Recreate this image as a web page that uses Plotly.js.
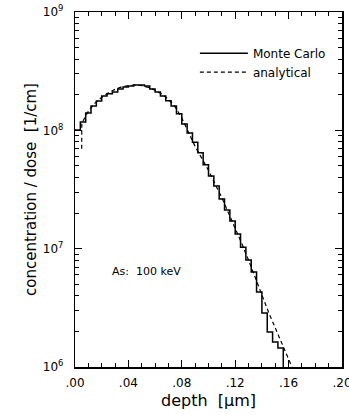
<!DOCTYPE html>
<html>
<head>
<meta charset="utf-8">
<script src="https://cdn.plot.ly/plotly-3.0.1.min.js"></script>
<style>
  html, body { margin: 0; padding: 0; background: #fff; }
  #chart { width: 349px; height: 415px; }
</style>
</head>
<body>
<div id="chart"></div>
<script>
// ---- data ----
// Monte Carlo histogram: bin width 0.004 µm, left edges from 0
const binWidth = 0.004;
const mcValues = [
  1.007e8, 1.175e8, 1.403e8, 1.603e8, 1.770e8, 1.950e8, 2.042e8, 2.113e8,
  2.239e8, 2.328e8, 2.371e8, 2.421e8, 2.421e8, 2.371e8, 2.239e8, 2.113e8,
  1.950e8, 1.778e8, 1.603e8, 1.380e8, 1.132e8, 9.51e7, 7.94e7, 6.46e7,
  5.13e7, 4.12e7, 3.39e7, 2.63e7, 2.12e7, 1.71e7, 1.33e7, 1.03e7,
  8.04e6, 6.35e6, 4.31e6, 2.86e6, 1.98e6, 1.63e6, 1.45e6
];
// analytical curve
const anDepth = [0.0050, 0.0051, 0.010, 0.015, 0.020, 0.025, 0.030, 0.035, 0.040, 0.045,
                 0.050, 0.055, 0.060, 0.065, 0.070, 0.075, 0.080, 0.085, 0.090, 0.095,
                 0.100, 0.105, 0.110, 0.115, 0.120, 0.125, 0.130, 0.135, 0.140, 0.145,
                 0.150, 0.155, 0.160, 0.1625];
const anValues = [7.0e7, 1.15e8, 1.45e8, 1.70e8, 1.90e8, 2.08e8, 2.22e8, 2.33e8, 2.39e8, 2.42e8,
                  2.39e8, 2.30e8, 2.18e8, 2.03e8, 1.83e8, 1.58e8, 1.27e8, 9.7e7, 7.3e7, 5.8e7,
                  4.6e7, 3.5e7, 2.7e7, 2.0e7, 1.5e7, 1.1e7, 8.0e6, 5.7e6, 3.98e6, 2.9e6,
                  2.14e6, 1.57e6, 1.15e6, 1.0e6];
const xTickVals = [0, 0.04, 0.08, 0.12, 0.16, 0.20];
const xTickText = ['.00', '.04', '.08', '.12', '.16', '.20'];
const yDecades = [6, 7, 8, 9];
const legendNames = ['Monte Carlo', 'analytical'];
const annotationText = 'As:  100 keV';

// ---- build traces ----
const mcX = mcValues.map((_, i) => i * binWidth);
const mcY = mcValues.slice();
// close last bin and drop to below axis
mcX.push(mcValues.length * binWidth);
mcY.push(mcValues[mcValues.length - 1]);
mcX.push(mcValues.length * binWidth);
mcY.push(1e5);

const yTickVals = yDecades.map(d => Math.pow(10, d));
const yTickText = yDecades.map(d => '10<sup>' + d + '</sup>\u00a0\u00a0');
const yMinor = [];
yDecades.slice(0, -1).forEach(d => { for (let k = 2; k <= 9; k++) yMinor.push(k * Math.pow(10, d)); });

const font = 'DejaVu Sans, sans-serif';

const traces = [
  {x: mcX, y: mcY, name: legendNames[0], mode: 'lines', line: {shape: 'hv', color: '#000', width: 1.5}},
  {x: anDepth, y: anValues, name: legendNames[1], mode: 'lines', line: {color: '#000', width: 1.2, dash: '4px,3px'}}
];

const layout = {
  width: 349, height: 415,
  margin: {l: 75, r: 7, t: 12, b: 48},
  paper_bgcolor: '#fff', plot_bgcolor: '#fff',
  font: {family: font, color: '#000', size: 12},
  showlegend: true,
  legend: {x: 0.449, y: 0.925, xanchor: 'left', yanchor: 'top', bgcolor: 'rgba(0,0,0,0)',
           font: {size: 12, family: font}, tracegroupgap: 0, itemwidth: 48},
  xaxis: {
    range: [0, 0.2], showgrid: false, zeroline: false,
    showline: true, linecolor: '#000', linewidth: 1.5, mirror: 'ticks',
    tickmode: 'array', tickvals: xTickVals, ticktext: xTickText,
    ticks: 'inside', ticklen: 7, tickcolor: '#000', tickwidth: 1,
    tickfont: {size: 12, family: font}, ticklabelstandoff: 4, ticklabeloverflow: 'allow',
    minor: {dtick: 0.01, ticks: 'inside', ticklen: 4, tickcolor: '#000', showgrid: false},
    title: {text: 'depth  [μm]', font: {size: 16, family: font}, standoff: 6}
  },
  yaxis: {
    type: 'log', range: [6, 9], showgrid: false, zeroline: false,
    showline: true, linecolor: '#000', linewidth: 1.5, mirror: 'ticks',
    tickmode: 'array', tickvals: yTickVals, ticktext: yTickText,
    ticks: 'inside', ticklen: 7, tickcolor: '#000', tickwidth: 1,
    tickfont: {size: 12, family: font},
    minor: {tickmode: 'array', tickvals: yMinor, ticks: 'inside', ticklen: 4, tickcolor: '#000', showgrid: false},
    title: {text: 'concentration / dose  [1/cm]', font: {size: 15, family: font}, standoff: 2}
  },
  annotations: [
    {xref: 'paper', yref: 'paper', x: 0.13, y: 0.27, xanchor: 'left', yanchor: 'middle',
     text: annotationText, showarrow: false, font: {size: 11, family: font}}
  ]
};

Plotly.newPlot('chart', traces, layout, {displayModeBar: false, staticPlot: true});
</script>
</body>
</html>
